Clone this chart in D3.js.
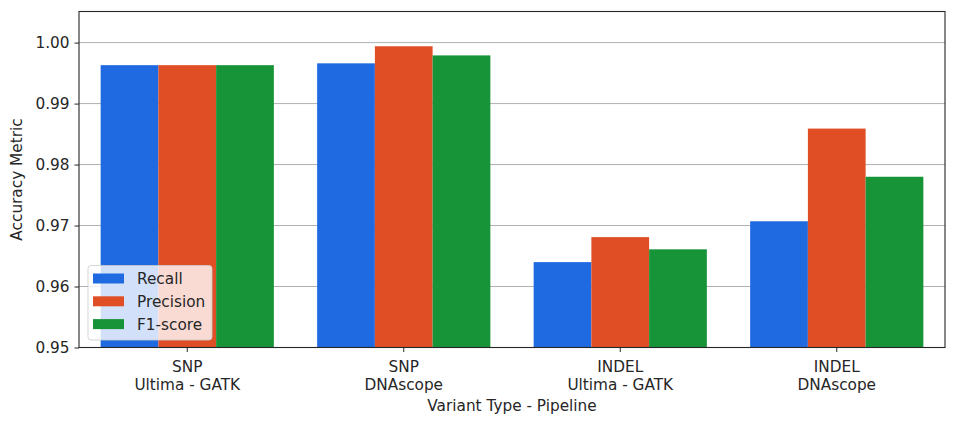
<!DOCTYPE html>
<html>
<head>
<meta charset="utf-8">
<script src="https://cdn.jsdelivr.net/npm/d3@7"></script>
<style>
  body { margin: 0; background: #fff; }
  text { font-family: "DejaVu Sans", sans-serif; fill: #262626; }
</style>
</head>
<body>
<svg id="chart"></svg>
<script>
const categories = [
  ['SNP', 'Ultima - GATK'],
  ['SNP', 'DNAscope'],
  ['INDEL', 'Ultima - GATK'],
  ['INDEL', 'DNAscope']
]
const metrics = ['Recall', 'Precision', 'F1-score']
const recall    = [0.9963, 0.9966, 0.9640, 0.9707]
const precision = [0.9963, 0.9994, 0.9681, 0.9859]
const f1score   = [0.9963, 0.9979, 0.9661, 0.9780]
const yTicks = [0.95, 0.96, 0.97, 0.98, 0.99, 1.00]

const series = [recall, precision, f1score]
const colors = d3.scaleOrdinal(metrics, ['#1f6ae0', '#e04e26', '#179437'])

const W = 954, H = 427
const margin = {top: 11.5, right: 9, bottom: 79.5, left: 79}
const w = W - margin.left - margin.right
const h = H - margin.top - margin.bottom
const fs = 15.3

const svg = d3.select('#chart').attr('width', W).attr('height', H)
const g = svg.append('g').attr('transform', `translate(${margin.left},${margin.top})`)

const x = d3.scaleBand().domain(d3.range(categories.length)).range([0, w]).paddingInner(0.2).paddingOuter(0.1)
const xs = d3.scaleBand().domain(metrics).range([0, x.bandwidth()])
const y = d3.scaleLinear().domain([0.95, 1.0051]).range([h, 0])

// grid
g.append('g')
  .selectAll('line')
  .data(yTicks)
  .join('line')
    .attr('x1', 0).attr('x2', w)
    .attr('y1', d => y(d)).attr('y2', d => y(d))
    .attr('stroke', '#b0b0b0').attr('stroke-width', 1)

// bars
const rows = []
categories.forEach((c, i) => metrics.forEach((m, j) => rows.push({i, m, v: series[j][i]})))
g.append('g')
  .selectAll('rect')
  .data(rows)
  .join('rect')
    .attr('x', d => x(d.i) + xs(d.m))
    .attr('width', xs.bandwidth())
    .attr('y', d => y(d.v))
    .attr('height', d => h - y(d.v))
    .attr('fill', d => colors(d.m))

// axes
const yAxis = g.append('g').call(d3.axisLeft(y).tickValues(yTicks).tickFormat(d3.format('.2f')).tickSizeOuter(0).tickSize(4.5).tickPadding(5))
const xAxis = g.append('g').attr('transform', `translate(0,${h})`)
  .call(d3.axisBottom(x).tickFormat('').tickSizeOuter(0).tickSize(4.5))
yAxis.select('.domain').remove()
xAxis.select('.domain').remove()
g.selectAll('.tick line').attr('stroke', '#262626')
yAxis.selectAll('text').attr('font-size', fs).style('fill', '#262626')

xAxis.selectAll('.tick').each(function(d) {
  const t = d3.select(this).append('text').attr('text-anchor', 'middle').attr('font-size', fs)
  t.append('tspan').attr('x', 0).attr('y', 24.5).text(categories[d][0])
  t.append('tspan').attr('x', 0).attr('y', 42).text(categories[d][1])
})

// frame
g.append('rect').attr('width', w).attr('height', h).attr('fill', 'none').attr('stroke', '#262626').attr('stroke-width', 1.1)

// axis labels
svg.append('text').attr('x', margin.left + w / 2).attr('y', 410.5).attr('text-anchor', 'middle')
  .attr('font-size', fs).text('Variant Type - Pipeline')
svg.append('text').attr('transform', `translate(22,${margin.top + h / 2}) rotate(-90)`).attr('text-anchor', 'middle')
  .attr('font-size', fs).text('Accuracy Metric')

// legend
const lg = svg.append('g').attr('transform', 'translate(88,265.5)')
lg.append('rect').attr('width', 124).attr('height', 74.5).attr('rx', 3)
  .attr('fill', 'white').attr('fill-opacity', 0.8).attr('stroke', '#cccccc').attr('stroke-opacity', 0.8)
metrics.forEach((m, i) => {
  const row = lg.append('g').attr('transform', `translate(5,${8 + i * 22.8})`)
  row.append('rect').attr('width', 31).attr('height', 10).attr('fill', colors(m))
  row.append('text').attr('x', 44).attr('y', 10.5).attr('font-size', fs).text(m)
})
</script>
</body>
</html>
